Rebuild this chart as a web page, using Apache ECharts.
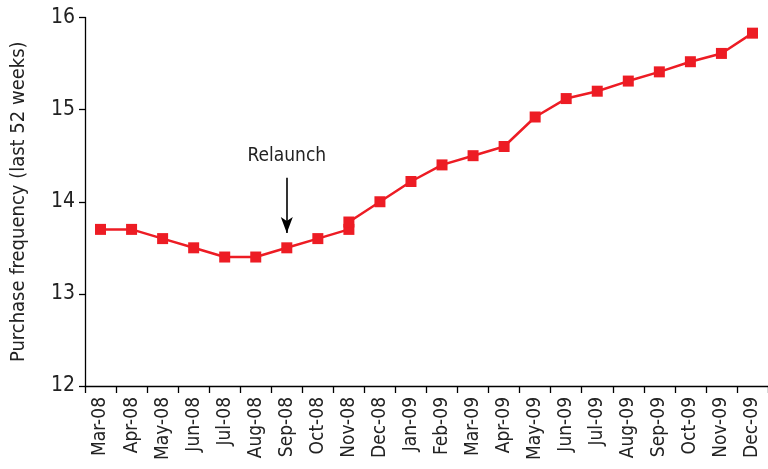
<!DOCTYPE html>
<html>
<head>
<meta charset="utf-8">
<script src="https://cdn.jsdelivr.net/npm/echarts@6/dist/echarts.min.js"></script>
<style>html,body{margin:0;padding:0;background:#fff}#c{width:768px;height:469px}</style>
</head>
<body>
<div id="c"></div>
<script>
const categories = ['Mar-08','Apr-08','May-08','Jun-08','Jul-08','Aug-08','Sep-08','Oct-08','Nov-08','Dec-08','Jan-09','Feb-09','Mar-09','Apr-09','May-09','Jun-09','Jul-09','Aug-09','Sep-09','Oct-09','Nov-09','Dec-09'];
// x-category of each point (Nov-08 appears twice: two readings)
const pointMonths = ['Mar-08','Apr-08','May-08','Jun-08','Jul-08','Aug-08','Sep-08','Oct-08','Nov-08','Nov-08','Dec-08','Jan-09','Feb-09','Mar-09','Apr-09','May-09','Jun-09','Jul-09','Aug-09','Sep-09','Oct-09','Nov-09','Dec-09'];
const frequency = [13.7,13.7,13.6,13.5,13.4,13.4,13.5,13.6,13.7,13.78,14.0,14.22,14.4,14.5,14.6,14.92,15.12,15.2,15.31,15.41,15.52,15.61,15.83];
const yTicks = [12,13,14,15,16];
const annotation = {label:'Relaunch', month:'Sep-08', from:14.26, to:13.66};

const font = '"Liberation Sans Narrow","DejaVu Sans Condensed","Roboto",sans-serif';
const chart = echarts.init(document.getElementById('c'), null, {renderer:'canvas'});
chart.setOption({
  animation:false,
  backgroundColor:'#fff',
  grid:{left:85, right:-6, top:17.5, bottom:83, containLabel:false},
  xAxis:{
    type:'category', data:categories, boundaryGap:true,
    axisLine:{lineStyle:{color:'#000', width:1.3}},
    axisTick:{show:true, alignWithLabel:false, length:7, lineStyle:{color:'#000', width:1.3}},
    axisLabel:{rotate:90, margin:11, color:'#222', fontFamily:font, fontSize:19, interval:0},
    splitLine:{show:false}
  },
  yAxis:{
    type:'value', min:yTicks[0], max:yTicks[yTicks.length-1], interval:1,
    name:'Purchase frequency (last 52 weeks)', nameLocation:'middle', nameGap:56,
    nameTextStyle:{color:'#222', fontFamily:font, fontSize:20},
    axisLine:{show:true, lineStyle:{color:'#000', width:1.3}},
    axisTick:{show:true, length:6, lineStyle:{color:'#000', width:1.3}},
    axisLabel:{color:'#222', fontFamily:font, fontSize:21, margin:10},
    splitLine:{show:false}
  },
  series:[{
    type:'line',
    data: pointMonths.map((m,i)=>[m, frequency[i]]),
    symbol:'rect', symbolSize:11,
    itemStyle:{color:'#ED1C24'},
    lineStyle:{color:'#ED1C24', width:2.5},
    markLine:{
      silent:true, animation:false,
      symbol:['none','arrow'], symbolSize:[9,16],
      lineStyle:{color:'#000', width:1.6, type:'solid'},
      label:{show:true, position:'start', formatter:annotation.label, color:'#222', fontFamily:font, fontSize:19, distance:12},
      data:[[{coord:[annotation.month, annotation.from]},{coord:[annotation.month, annotation.to]}]]
    }
  }]
});
</script>
</body>
</html>
